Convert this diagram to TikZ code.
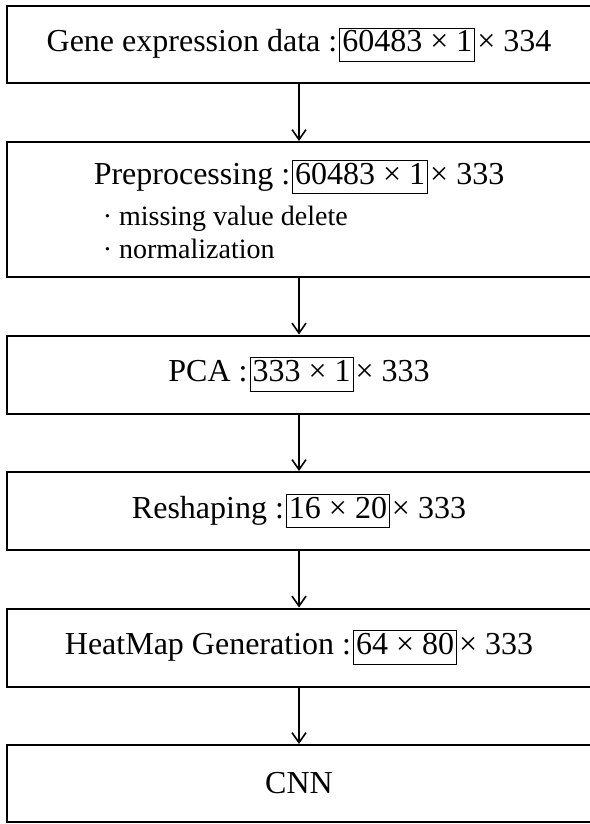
\documentclass[tikz,border=0pt]{standalone}
\usepackage{fontspec}
\setmainfont{Liberation Serif}
\usetikzlibrary{positioning,arrows.meta}
\newcommand\subfont{\fontsize{28}{33}\selectfont}
\newcommand\dimbox[1]{{\setlength\fboxsep{2pt}\setlength\fboxrule{1pt}\fbox{\vphantom{Ay}#1}}}
\begin{document}
\begin{tikzpicture}[x=1pt,y=-1pt,
    font=\fontsize{32}{37}\selectfont,
    stage/.style={draw,line width=2pt,minimum width=584pt,inner sep=0pt},
    flow/.style={-{Straight Barb[length=10pt,width=14pt,line width=1.6pt]},line width=1.6pt}]
    \useasboundingbox (0,0) rectangle (589,824);
    % processing stages
    \node[stage,minimum height=77.5pt] (gene) at (299,44.75)
        {Gene expression data :\hspace{2pt}\dimbox{60483 × 1}\hspace{2pt}× 334};
    \node[stage,minimum height=135pt,align=left,below=56.5pt of gene] (prep)
        {Preprocessing :\hspace{2pt}\dimbox{60483 × 1}\hspace{2pt}× 333\\[4pt]
        \hspace*{9pt}{\subfont · missing value delete}\\[-4pt]
        \hspace*{9pt}{\subfont · normalization}};
    \node[stage,minimum height=78pt,below=56.5pt of prep] (pca)
        {PCA :\hspace{2pt}\dimbox{333 × 1}\hspace{2pt}× 333};
    \node[stage,minimum height=78pt,below=56.5pt of pca] (resh)
        {Reshaping :\hspace{2pt}\dimbox{16 × 20}\hspace{2pt}× 333};
    \node[stage,minimum height=78pt,below=56.5pt of resh] (heat)
        {HeatMap Generation :\hspace{2pt}\dimbox{64 × 80}\hspace{2pt}× 333};
    \node[stage,minimum height=77pt,below=56.5pt of heat] (cnn) {CNN};
    % arrows
    \foreach \a/\b in {gene/prep,prep/pca,pca/resh,resh/heat,heat/cnn}
        \draw[flow] (\a)--(\b);
\end{tikzpicture}
\end{document}
